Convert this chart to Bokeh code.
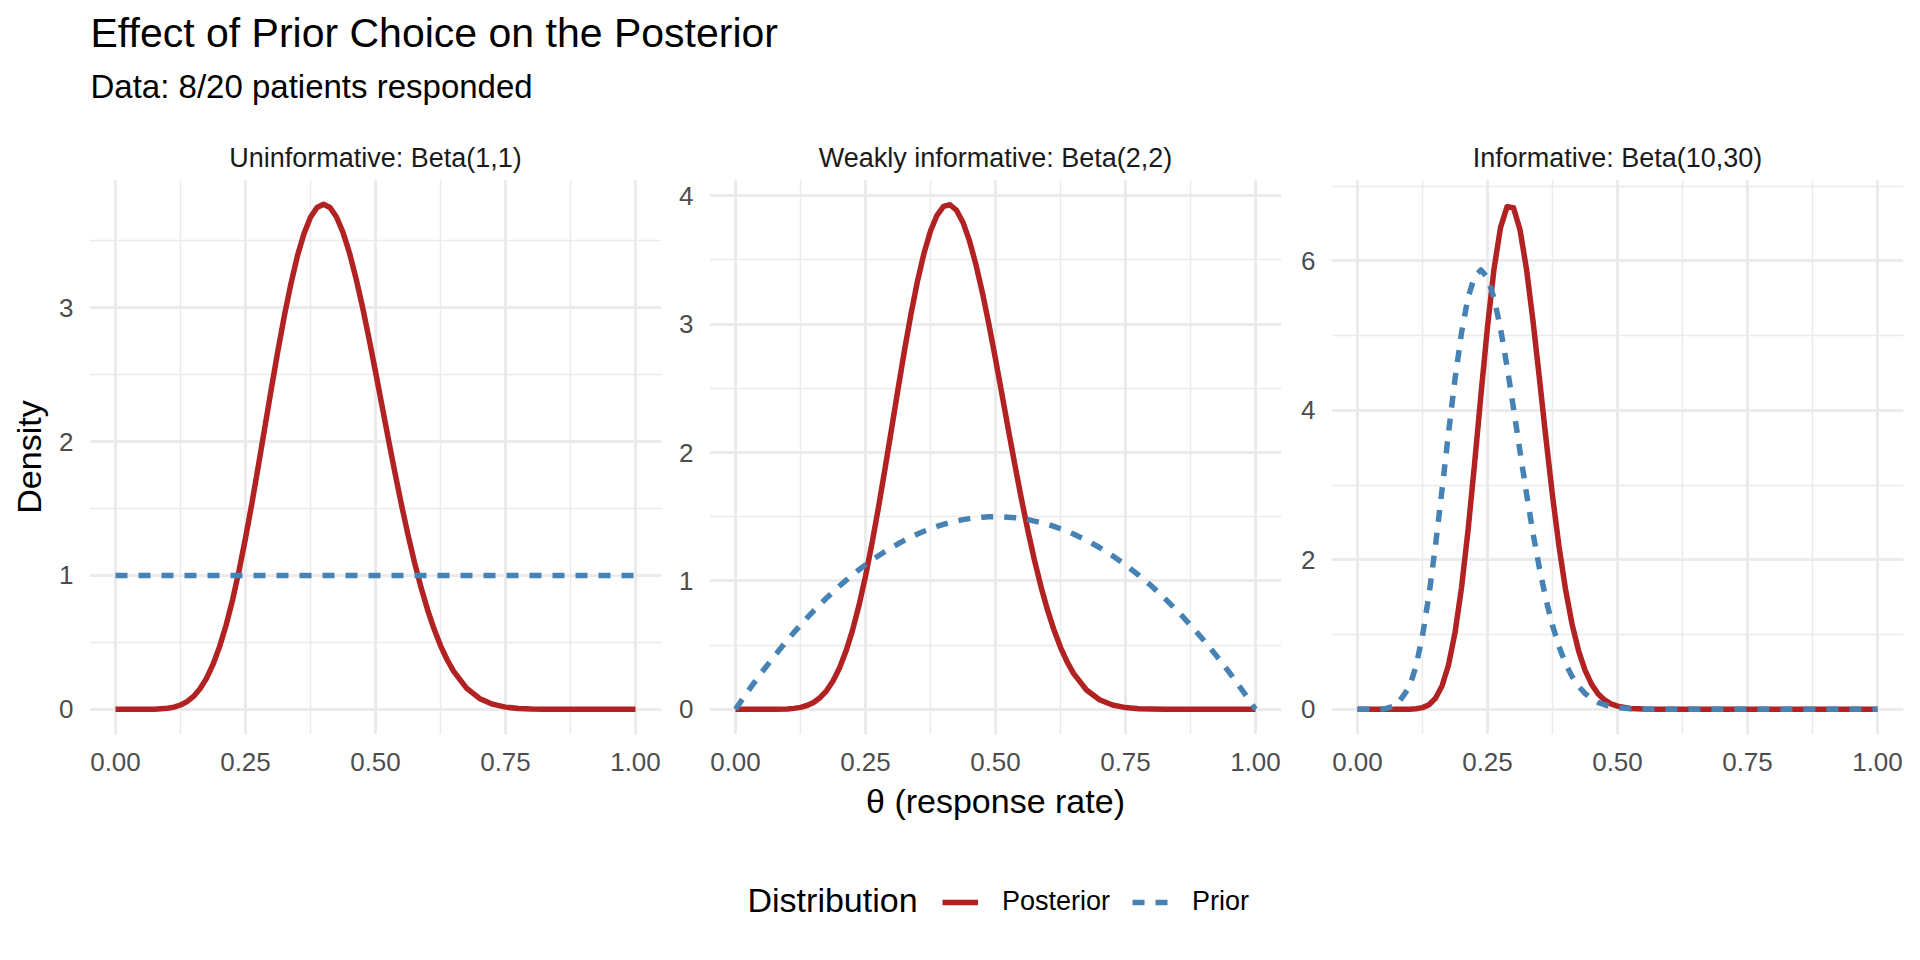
from bokeh.plotting import figure
from bokeh.layouts import column, row
from bokeh.models import (Range1d, FixedTicker, NumeralTickFormatter, Title,
                          Legend, LegendItem, Label)
from bokeh.embed import file_html
from bokeh.resources import INLINE

FONT = "Liberation Sans"
RED = "#B22222"
BLUE = "#4682B4"
GRID = "#EBEBEB"

# ---------------- data ----------------
panel_titles = ["Uninformative: Beta(1,1)",
                "Weakly informative: Beta(2,2)",
                "Informative: Beta(10,30)"]
series_names = ["Posterior", "Prior"]

# theta grid for the two wide panels (finer where the curves bend)
theta_mid = [0, 0.025, 0.05, 0.075, 0.1,
             0.1125, 0.125, 0.1375, 0.15, 0.1625, 0.175, 0.1875, 0.2,
             0.2125, 0.225, 0.2375, 0.25, 0.2625, 0.275, 0.2875, 0.3,
             0.3125, 0.325, 0.3375, 0.35, 0.3625, 0.375, 0.3875, 0.4,
             0.4125, 0.425, 0.4375, 0.45, 0.4625, 0.475, 0.4875, 0.5,
             0.5125, 0.525, 0.5375, 0.55, 0.5625, 0.575, 0.5875, 0.6,
             0.6125, 0.625, 0.6375,
             0.65, 0.675, 0.7, 0.725, 0.75, 0.775, 0.8, 0.825, 0.85,
             0.875, 0.9, 0.925, 0.95, 0.975, 1.0]

# theta grid for the narrow informative panel
theta_inf = [0, 0.025, 0.05, 0.075, 0.1,
             0.1125, 0.125, 0.1375, 0.15, 0.1625, 0.175, 0.1875, 0.2,
             0.2125, 0.225, 0.2375, 0.25, 0.2625, 0.275, 0.2875, 0.3,
             0.3125, 0.325, 0.3375, 0.35, 0.3625, 0.375, 0.3875, 0.4,
             0.4125, 0.425, 0.4375, 0.45, 0.4625, 0.475, 0.4875, 0.5,
             0.525, 0.55, 0.575, 0.6, 0.625, 0.65, 0.675, 0.7, 0.725,
             0.75, 0.775, 0.8, 0.825, 0.85, 0.875, 0.9, 0.925, 0.95, 0.975, 1.0]

post_flat = [0, 0, 0.0001, 0.001, 0.0075,
             0.0162, 0.032, 0.0573, 0.096, 0.153, 0.231, 0.335, 0.466,
             0.626, 0.815, 1.034, 1.279, 1.544, 1.825, 2.114, 2.402,
             2.683, 2.946, 3.183, 3.390, 3.554, 3.676, 3.749, 3.774,
             3.749, 3.678, 3.563, 3.409, 3.220, 3.006, 2.770, 2.523,
             2.268, 2.014, 1.765, 1.527, 1.304, 1.098, 0.911, 0.745,
             0.601, 0.476, 0.372,
             0.285, 0.158, 0.081, 0.038, 0.016, 0.006, 0.002, 0.0005, 0.0001,
             0, 0, 0, 0, 0, 0]
prior_flat = [1.0] * 63

post_weak = [0, 0, 0, 0.0003, 0.0029,
             0.0070, 0.015, 0.0294, 0.053, 0.090, 0.144, 0.220, 0.322,
             0.453, 0.615, 0.810, 1.036, 1.293, 1.573, 1.873, 2.181,
             2.493, 2.796, 3.078, 3.335, 3.552, 3.725, 3.848, 3.917,
             3.930, 3.887, 3.792, 3.648, 3.462, 3.242, 2.994, 2.728,
             2.451, 2.172, 1.898, 1.635, 1.388, 1.160, 0.955, 0.774,
             0.617, 0.483, 0.371,
             0.280, 0.150, 0.074, 0.033, 0.013, 0.004, 0.0013, 0.0003, 0,
             0, 0, 0, 0, 0, 0]
prior_weak = [0, 0.146, 0.285, 0.416, 0.54,
              0.599, 0.656, 0.712, 0.765, 0.817, 0.866, 0.914, 0.96,
              1.004, 1.046, 1.087, 1.125, 1.162, 1.196, 1.229, 1.26,
              1.289, 1.316, 1.342, 1.365, 1.387, 1.406, 1.424, 1.44,
              1.454, 1.466, 1.477, 1.485, 1.492, 1.496, 1.499, 1.5,
              1.499, 1.496, 1.492, 1.485, 1.477, 1.466, 1.454, 1.44,
              1.424, 1.406, 1.387,
              1.365, 1.316, 1.26, 1.196, 1.125, 1.046, 0.96, 0.866, 0.765,
              0.656, 0.54, 0.416, 0.285, 0.146, 0]

post_inf = [0, 0, 0, 0, 0.0016,
            0.0065, 0.022, 0.061, 0.147, 0.311, 0.593, 1.024, 1.625,
            2.388, 3.274, 4.214, 5.117, 5.889, 6.443, 6.722, 6.709,
            6.415, 5.888, 5.197, 4.417, 3.618, 2.859, 2.180, 1.606,
            1.143, 0.786, 0.523, 0.336, 0.208, 0.125, 0.072, 0.041,
            0.011, 0.003, 0.0006, 0.0001, 0, 0, 0, 0, 0,
            0, 0, 0, 0, 0, 0, 0, 0, 0, 0, 0]
prior_inf = [0, 0, 0.0028, 0.050, 0.300,
             0.576, 0.986, 1.531, 2.194, 2.934, 3.696, 4.417, 5.036,
             5.506, 5.787, 5.878, 5.774, 5.503, 5.093, 4.589, 4.028,
             3.451, 2.886, 2.355, 1.882, 1.469, 1.122, 0.839, 0.614,
             0.440, 0.308, 0.212, 0.142, 0.093, 0.060, 0.038, 0.023,
             0.008, 0.0026, 0.0007, 0.0002, 0, 0, 0, 0, 0,
             0, 0, 0, 0, 0, 0, 0, 0, 0, 0, 0]

peaks = [3.77, 3.93, 6.75]          # tallest density in each panel
y_major = [[0, 1, 2, 3], [0, 1, 2, 3, 4], [0, 2, 4, 6]]
y_minor = [[0.5, 1.5, 2.5, 3.5], [0.5, 1.5, 2.5, 3.5], [1, 3, 5, 7]]
x_major = [0, 0.25, 0.5, 0.75, 1.0]
x_minor = [0.125, 0.375, 0.625, 0.875]

LW = 5.5
DASH = "12 11"


def make_panel(i, xs, post, prior, left, right):
    pk = peaks[i]
    p = figure(frame_width=572, frame_height=555,
               x_range=Range1d(-0.05, 1.05), y_range=Range1d(-0.05 * pk, 1.05 * pk),
               toolbar_location=None, output_backend="svg",
               min_border_left=left, min_border_right=right,
               min_border_top=51, min_border_bottom=130,
               outline_line_color=None, background_fill_color="white")
    p.title.text = panel_titles[i]
    p.title.align = "center"
    p.title.text_font = FONT
    p.title.text_font_size = "27px"
    p.title.text_font_style = "normal"
    p.title.text_color = "#1A1A1A"
    p.title.standoff = 14

    p.xaxis.ticker = FixedTicker(ticks=x_major, minor_ticks=x_minor)
    p.xgrid.ticker = FixedTicker(ticks=x_major, minor_ticks=x_minor)
    p.yaxis.ticker = FixedTicker(ticks=y_major[i], minor_ticks=y_minor[i])
    p.ygrid.ticker = FixedTicker(ticks=y_major[i], minor_ticks=y_minor[i])
    p.xaxis.formatter = NumeralTickFormatter(format="0.00")

    p.grid.grid_line_color = GRID
    p.grid.grid_line_width = 3
    p.grid.minor_grid_line_color = GRID
    p.grid.minor_grid_line_width = 1.5

    p.axis.axis_line_color = None
    p.axis.major_tick_line_color = None
    p.axis.minor_tick_line_color = None
    p.axis.major_tick_out = 0
    p.axis.major_tick_in = 0
    p.axis.minor_tick_out = 0
    p.axis.major_label_text_font = FONT
    p.axis.major_label_text_font_size = "26px"
    p.axis.major_label_text_color = "#4D4D4D"
    p.xaxis.major_label_standoff = 18
    p.yaxis.major_label_standoff = 16
    p.axis.axis_label_text_font = FONT
    p.axis.axis_label_text_font_size = "34px"
    p.axis.axis_label_text_font_style = "normal"
    p.axis.axis_label_text_color = "black"

    p.line(xs, post, line_color=RED, line_width=LW, line_join="round")
    p.line(xs, prior, line_color=BLUE, line_width=LW, line_dash=DASH,
           line_join="round")
    return p


p1 = make_panel(0, theta_mid, post_flat, prior_flat, 89, 10)
p2 = make_panel(1, theta_mid, post_weak, prior_weak, 38, 10)
p3 = make_panel(2, theta_inf, post_inf, prior_inf, 40, 9)

p1.yaxis.axis_label = "Density"
p1.yaxis.axis_label_standoff = 8
p2.xaxis.axis_label = "θ (response rate)"
p2.xaxis.axis_label_standoff = 8

# footer strip holding the shared legend; its key lines carry the series
# but stay hidden, only their legend swatches are shown
foot = figure(width=1912, height=88, x_range=Range1d(0, 1912), y_range=Range1d(0, 88),
              x_axis_type=None, y_axis_type=None, toolbar_location=None,
              output_backend="svg", outline_line_color=None, min_border=0)
k_post = foot.line(theta_mid, post_weak, line_color=RED, line_width=LW, visible=False)
k_prior = foot.line(theta_mid, prior_weak, line_color=BLUE, line_width=LW,
                    line_dash=DASH, visible=False)
legend = Legend(items=[LegendItem(label=series_names[0], renderers=[k_post]),
                       LegendItem(label=series_names[1], renderers=[k_prior])],
                orientation="horizontal", location=(942, 35),
                label_text_font=FONT, label_text_font_size="27px",
                label_text_color="black", label_standoff=24,
                glyph_width=36, glyph_height=30, spacing=22,
                padding=0, margin=0, border_line_color=None,
                background_fill_alpha=0, inactive_fill_alpha=0)
foot.add_layout(legend, "center")
foot.add_layout(Label(x=747, y=53, x_units="screen", y_units="screen",
                      text="Distribution", text_font=FONT, text_font_size="34px",
                      text_color="black", text_baseline="alphabetic"))

# header with title and subtitle
head = figure(width=1912, height=128, x_axis_type=None, y_axis_type=None,
              toolbar_location=None, output_backend="svg", outline_line_color=None,
              min_border=0, title=None)
head.add_layout(Title(text="Data: 8/20 patients responded", text_font=FONT,
                      text_font_size="33px", text_font_style="normal",
                      text_color="black", align="left", offset=90, standoff=6), "above")
head.add_layout(Title(text="Effect of Prior Choice on the Posterior", text_font=FONT,
                      text_font_size="41px", text_font_style="normal",
                      text_color="black", align="left", offset=90, standoff=14), "above")

layout = column(head, row(p1, p2, p3, spacing=0), foot, spacing=0)

open("out.html", "w").write(file_html(layout, INLINE, title="Effect of Prior Choice on the Posterior"))
